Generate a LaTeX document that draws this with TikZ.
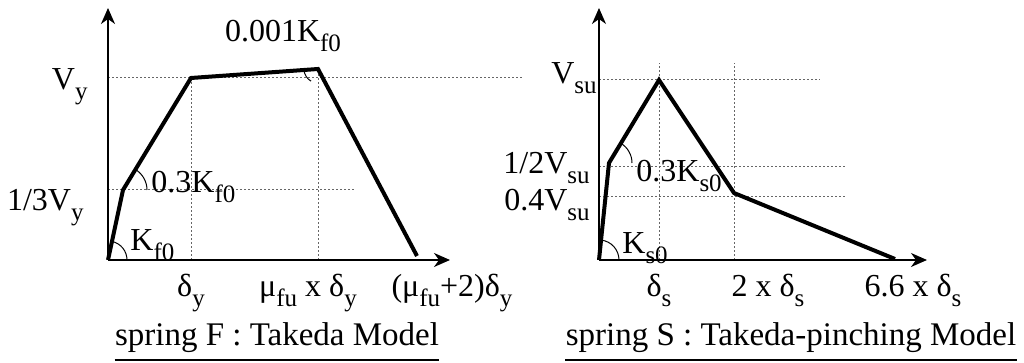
\documentclass[tikz,border=0pt]{standalone}
\usepackage{fontspec}
\setmainfont{Liberation Serif}
\usetikzlibrary{arrows.meta}
\newcommand{\sbs}[1]{\raisebox{-0.3em}{\fontsize{12.5}{13}\selectfont #1}}

\begin{document}
\begin{tikzpicture}[x=0.5pt, y=0.5pt,
    axis/.style={line width=0.8pt, -{Stealth[length=8pt, width=7pt, inset=2.5pt]}},
    curve/.style={line width=2pt, line join=miter},
    guide/.style={black!60, line width=0.5pt, dash pattern=on 1pt off 1pt},
    angle/.style={line width=0.5pt},
    lbl/.style={inner sep=0pt, font=\fontsize{16}{18}\selectfont},
    ttl/.style={inner sep=0pt, font=\fontsize{16.5}{19}\selectfont}]
    \useasboundingbox (0,0) rectangle (1024,363);

    % spring F : Takeda
    \begin{scope}[shift={(108,103)}]
        \coordinate (fO)   at (0,0);
        \coordinate (fA)   at (15,70);
        \coordinate (fB)   at (83,182);
        \coordinate (fC)   at (210,191);
        \coordinate (fD)   at (309,4);
        \coordinate (fX)   at (342,0);
        \coordinate (fY)   at (0,252);
        \coordinate (fBh)  at (415,182);
        \coordinate (fAh)  at (247,70);
        \draw[guide] (0,182) -- (fBh);
        \draw[guide] (0,70) -- (fAh);
        \draw[guide] (83,0) -- (fB);
        \draw[guide] (210,0) -- (fC);
        \draw[axis] (fO) -- (fX);
        \draw[axis] (fO) -- (fY);
        \draw[curve] (fO) -- (fA) -- (fB) -- (fC) -- (fD);
        \draw[angle] (fO) ++(9.5pt,0) arc[start angle=0, end angle=78, radius=9.5pt];
        \draw[angle] (fA) ++(12pt,0) arc[start angle=0, end angle=59, radius=12pt];
        \draw[angle] (fC) ++(184:7pt) arc[start angle=184, end angle=240, radius=7pt];
    \end{scope}
    \node[lbl, anchor=base east] (fVy)  at (88,273)  {V\sbs{y}};
    \node[lbl, anchor=base east] (fV3)  at (84,152)  {1/3V\sbs{y}};
    \node[lbl, anchor=base west] (fK0)  at (130,112) {K\sbs{f0}};
    \node[lbl, anchor=base west] (fK3)  at (151,170) {0.3K\sbs{f0}};
    \node[lbl, anchor=base]      (fK1)  at (283,321) {0.001K\sbs{f0}};
    \node[lbl, anchor=base]      (fdy)  at (191,66)  {δ\sbs{y}};
    \node[lbl, anchor=base]      (fmu)  at (308,66)  {μ\sbs{fu} x δ\sbs{y}};
    \node[lbl, anchor=base]      (fmu2) at (452,66)  {(μ\sbs{fu}+2)δ\sbs{y}};
    \node[ttl, anchor=base]      (fttl) at (277,17)  {spring F : Takeda Model};
    \draw[line width=1pt] ([yshift=-7pt]fttl.base west) -- ([yshift=-7pt]fttl.base east);

    % spring S : Takeda-pinching
    \begin{scope}[shift={(599,103)}]
        \coordinate (sO)   at (0,0);
        \coordinate (sA)   at (10,97);
        \coordinate (sB)   at (60,180);
        \coordinate (sC)   at (135,67);
        \coordinate (sD)   at (296,1);
        \coordinate (sX)   at (328,0);
        \coordinate (sY)   at (0,252);
        \draw[guide] (0,180) -- (221,180);
        \draw[guide] (0,93) -- (248,93);
        \draw[guide] (0,63) -- (248,63);
        \draw[guide] (60,0) -- (60,197);
        \draw[guide] (135,0) -- (135,197);
        \draw[axis] (sO) -- (sX);
        \draw[axis] (sO) -- (sY);
        \draw[curve] (sO) -- (sA) -- (sB) -- (sC) -- (sD);
        \draw[angle] (sO) ++(10pt,0) arc[start angle=0, end angle=84, radius=10pt];
        \draw[angle] (sA) ++(11.5pt,0) arc[start angle=0, end angle=59, radius=11.5pt];
    \end{scope}
    \node[lbl, anchor=base east] (sVu)  at (597,279) {V\sbs{su}};
    \node[lbl, anchor=base east] (sV2)  at (590,189) {1/2V\sbs{su}};
    \node[lbl, anchor=base east] (sV4)  at (590,152) {0.4V\sbs{su}};
    \node[lbl, anchor=base west] (sK0)  at (622,109) {K\sbs{s0}};
    \node[lbl, anchor=base west] (sK3)  at (636,181) {0.3K\sbs{s0}};
    \node[lbl, anchor=base]      (sds)  at (659,66)  {δ\sbs{s}};
    \node[lbl, anchor=base]      (s2d)  at (768,66)  {2 x δ\sbs{s}};
    \node[lbl, anchor=base]      (s66)  at (913,66)  {6.6 x δ\sbs{s}};
    \node[ttl, anchor=base]      (sttl) at (791,17)  {spring S : Takeda-pinching Model};
    \draw[line width=1pt] ([yshift=-7pt]sttl.base west) -- ([yshift=-7pt]sttl.base east);
\end{tikzpicture}
\end{document}
